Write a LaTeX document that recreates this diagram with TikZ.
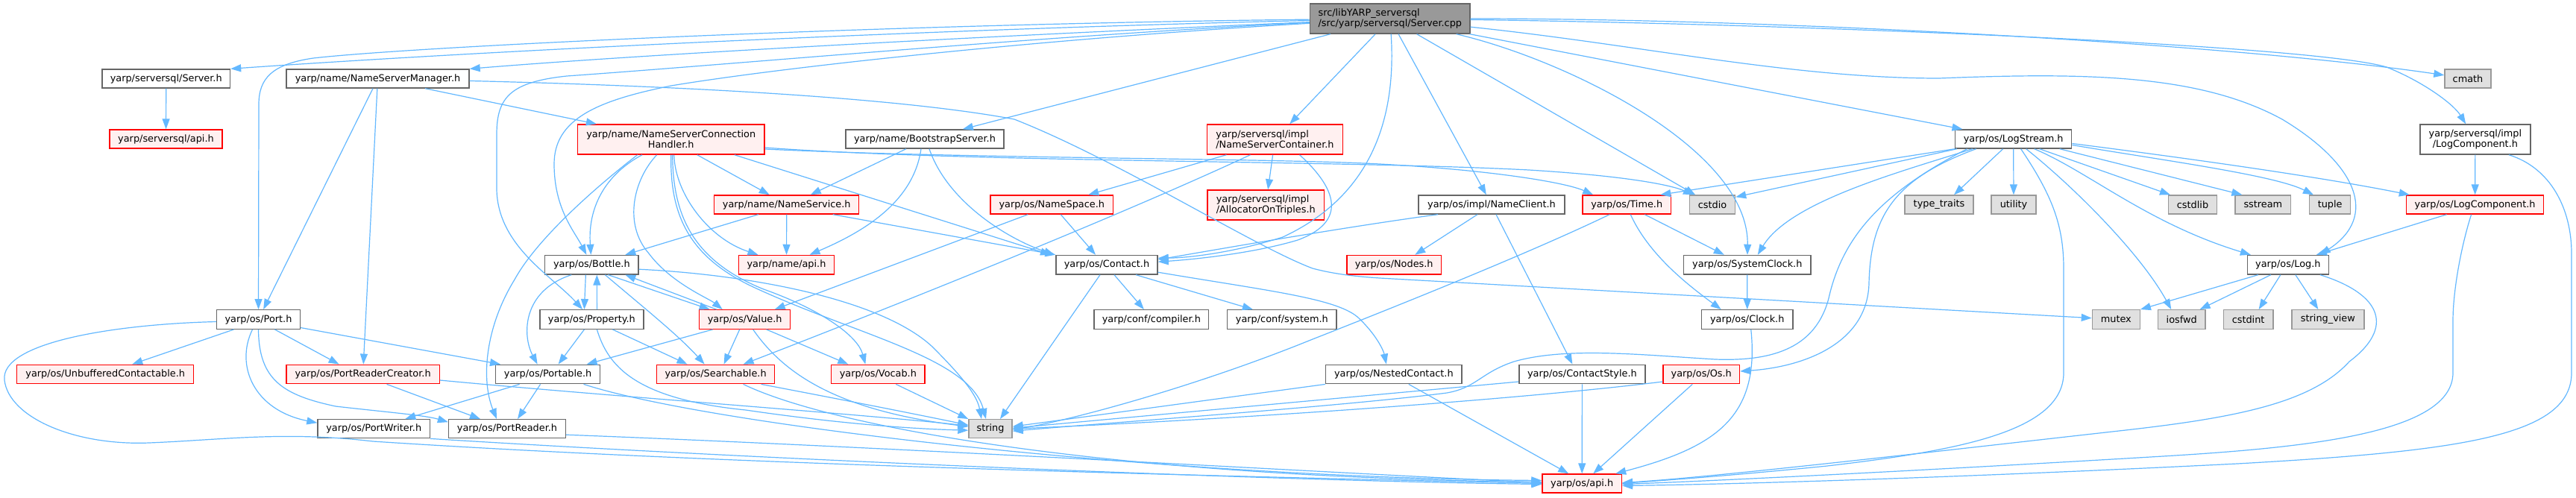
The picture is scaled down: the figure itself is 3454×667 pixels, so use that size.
\documentclass[tikz,border=0pt]{standalone}
\usepackage{fontspec}
\setmainfont{DejaVu Sans}
\usetikzlibrary{arrows.meta}
\definecolor{edgec}{HTML}{63B8FF}
\definecolor{ndb}{HTML}{666666}
\definecolor{redb}{HTML}{FF0000}
\definecolor{redf}{HTML}{FFF0F0}
\definecolor{gyb}{HTML}{999999}
\definecolor{gyf}{HTML}{E0E0E0}
\definecolor{rootf}{HTML}{999999}
\newcommand{\nfont}{\fontsize{12.85}{14}\selectfont}
\tikzset{
  nd/.style={draw=ndb, fill=white, line width=1.4pt, inner sep=0pt, font=\nfont, text=black},
  rd/.style={nd, draw=redb, fill=redf},
  gy/.style={nd, draw=gyb, fill=gyf},
  rt/.style={nd, draw=ndb, fill=rootf},
  sz/.style 2 args={minimum width=#1pt, minimum height=#2pt},
  edg/.style={draw=edgec, line width=1.2pt, -{Triangle[length=14pt,width=10pt]}},
}
\begin{document}
\begin{tikzpicture}[x=1pt,y=-1pt]
\useasboundingbox (0,0) rectangle (3454,667);
\fill[white] (0,0) rectangle (3454,667);
% ---------------- nodes
\node[rt, sz={214.4}{40}, align=left] (cpp) at (1863.8,25) {src/libYARP\_serversql\\/src/yarp/serversql/Server.cpp};
\node[nd, sz={171.5}{25}] (srvh) at (222.75,105.5) {yarp/serversql/Server.h};
\node[rd, sz={151}{25}] (sapi) at (222.5,186.5) {yarp/serversql/api.h};
\node[nd, sz={245}{25}] (nsm) at (506.5,105.5) {yarp/name/NameServerManager.h};
\node[rd, sz={250.5}{40}, align=center] (nsch) at (899.75,187) {yarp/name/NameServerConnection\\Handler.h};
\node[nd, sz={212}{25}] (boot) at (1240,186.5) {yarp/name/BootstrapServer.h};
\node[rd, sz={182}{40}, align=left] (nsc) at (1709.5,187) {yarp/serversql/impl\\/NameServerContainer.h};
\node[rd, sz={194}{25}] (nserv) at (1054.75,274.5) {yarp/name/NameService.h};
\node[rd, sz={164.5}{25}] (nspace) at (1410.25,274.5) {yarp/os/NameSpace.h};
\node[rd, sz={156.5}{40}, align=left] (alloc) at (1697.25,275) {yarp/serversql/impl\\/AllocatorOnTriples.h};
\node[nd, sz={196}{25}] (nclient) at (2000,274.5) {yarp/os/impl/NameClient.h};
\node[rd, sz={118.5}{25}] (time) at (2181.25,274.5) {yarp/os/Time.h};
\node[gy, sz={61}{25}] (cstdio) at (2296,274.5) {cstdio};
\node[gy, sz={92}{25}] (typet) at (2600,274.5) {type\_traits};
\node[gy, sz={60}{25}] (utility) at (2700,274.5) {utility};
\node[gy, sz={65}{25}] (cstdlib) at (2940,274.5) {cstdlib};
\node[gy, sz={74.7}{25}] (sstream) at (3034.35,274.5) {sstream};
\node[gy, sz={55}{25}] (tuple) at (3124.15,274.5) {tuple};
\node[rd, sz={184.2}{25}] (oslogc) at (3318.6,274.5) {yarp/os/LogComponent.h};
\node[gy, sz={62}{25}] (cmath) at (3309,105.5) {cmath};
\node[nd, sz={148.2}{40}, align=center] (slogc) at (3318.9,187) {yarp/serversql/impl\\/LogComponent.h};
\node[nd, sz={156}{25}] (logstream) at (2699.65,186.5) {yarp/os/LogStream.h};
\node[nd, sz={125.3}{25.5}] (bottle) at (793.35,355.2) {yarp/os/Bottle.h};
\node[nd, sz={111.6}{25.5}] (port) at (346.5,428.5) {yarp/os/Port.h};
\node[nd, sz={138.8}{25.5}] (property) at (793.4,428.5) {yarp/os/Property.h};
\node[rd, sz={237}{25.4}] (unbuf) at (141.2,502) {yarp/os/UnbufferedContactable.h};
\node[rd, sz={205.2}{25.4}] (prc) at (486.6,502) {yarp/os/PortReaderCreator.h};
\node[nd, sz={139.8}{25.4}] (portable) at (734.6,502) {yarp/os/Portable.h};
\node[nd, sz={150.5}{25}] (pwriter) at (501.25,575.2) {yarp/os/PortWriter.h};
\node[nd, sz={157}{25}] (preader) at (680,575.2) {yarp/os/PortReader.h};
\node[rd, sz={128.2}{25.5}] (napi) at (1054.5,355.2) {yarp/name/api.h};
\node[nd, sz={136}{25.5}] (contact) at (1484,355.2) {yarp/os/Contact.h};
\node[rd, sz={122}{25.5}] (value) at (998.7,428.5) {yarp/os/Value.h};
\node[nd, sz={153.7}{25.5}] (compiler) at (1543.85,428.5) {yarp/conf/compiler.h};
\node[nd, sz={146.3}{25.5}] (system) at (1718.85,428.5) {yarp/conf/system.h};
\node[rd, sz={158.2}{25.4}] (searchable) at (959.6,502) {yarp/os/Searchable.h};
\node[rd, sz={125.3}{25.4}] (vocab) at (1177.35,502) {yarp/os/Vocab.h};
\node[gy, sz={58}{25}] (string) at (1328,575.2) {string};
\node[rd, sz={126.5}{25.5}] (nodes) at (1869.25,355.2) {yarp/os/Nodes.h};
\node[nd, sz={170.4}{25.5}] (sysclock) at (2342.8,355.2) {yarp/os/SystemClock.h};
\node[nd, sz={122.5}{25.5}] (clock) at (2342.75,428.5) {yarp/os/Clock.h};
\node[nd, sz={182.3}{25.4}] (nested) at (1868.85,502) {yarp/os/NestedContact.h};
\node[nd, sz={169.2}{25.4}] (cstyle) at (2121.4,502) {yarp/os/ContactStyle.h};
\node[rd, sz={102.5}{25.4}] (os) at (2281.25,502) {yarp/os/Os.h};
\node[rd, sz={106.4}{25}] (osapi) at (2121.2,648.5) {yarp/os/api.h};
\node[nd, sz={108.7}{25.5}] (log) at (3067.85,355.2) {yarp/os/Log.h};
\node[gy, sz={63.8}{25.5}] (mutex) at (2837.3,428.5) {mutex};
\node[gy, sz={63.3}{25.5}] (iosfwd) at (2925.25,428.5) {iosfwd};
\node[gy, sz={66.6}{25.5}] (cstdint) at (3014.6,428.5) {cstdint};
\node[gy, sz={97.1}{25.5}] (strview) at (3121.35,428.5) {string\_view};
% ---------------- edges: root
\draw[edg] (cpp) .. controls (1300,38) and (700,65) .. (srvh.north east);
\draw[edg] (cpp) .. controls (1400,45) and (900,70) .. (nsm.north east);
\draw[edg] (cpp) .. controls (1200,32) and (560,62) .. (420,78) .. controls (365,86) and (347,105) .. (347,140) -- (port);
\draw[edg] (cpp) .. controls (1400,48) and (1000,85) .. (760,102) .. controls (685,110) and (666,130) .. (666,180) -- (666,255) .. controls (668,330) and (740,370) .. (property);
\draw[edg] (cpp) .. controls (1400,52) and (1050,90) .. (900,115) .. controls (800,135) and (743,160) .. (743,220) .. controls (743,280) and (770,310) .. (bottle);
\draw[edg] (cpp) -- (boot);
\draw[edg] (cpp) -- (nsc);
\draw[edg] (cpp) -- (nclient);
\draw[edg] (cpp) -- (cstdio);
\draw[edg] (cpp) .. controls (2100,80) and (2345,200) .. (sysclock);
\draw[edg] (cpp) .. controls (1872,150) and (1845,260) .. (1720,318) .. controls (1650,340) and (1590,346) .. ([yshift=9pt]contact.east);
\draw[edg] (cpp) -- (logstream);
\draw[edg] (cpp) .. controls (2200,60) and (2400,105) .. (2600,105) .. controls (2800,97) and (2950,100) .. (3060,160) .. controls (3160,220) and (3190,290) .. ([xshift=-12pt]log.north east);
\draw[edg] (cpp) .. controls (2400,25) and (3000,60) .. (cmath);
\draw[edg] (cpp) .. controls (2400,32) and (3100,60) .. (3200,90) .. controls (3250,110) and (3290,140) .. (slogc);
% server.h
\draw[edg] (srvh) -- (sapi);
% NameServerManager
\draw[edg] (nsm) -- (nsch);
\draw[edg] (nsm) -- (port);
\draw[edg] (nsm) -- (prc);
\draw[edg] (nsm) .. controls (900,115) and (1200,130) .. (1360,160) .. controls (1500,215) and (1680,330) .. (1760,360) .. controls (1790,368) and (1820,371) .. (1850,373) -- (mutex);
% NameServerConnectionHandler
\draw[edg] (nsch) .. controls (810,235) and (788,280) .. (bottle);
\draw[edg] ([xshift=-45pt]nsch.south) .. controls (800,250) and (720,320) .. (690,375) .. controls (650,440) and (645,510) .. ([xshift=-14pt]preader.north);
\draw[edg] ([xshift=-19pt]nsch.south) .. controls (850,240) and (835,300) .. (870,340) .. controls (900,380) and (950,400) .. ([xshift=-30pt]value.north);
\draw[edg] (nsch.south) .. controls (898,290) and (925,345) .. (1010,385) .. controls (1150,450) and (1300,480) .. ([xshift=-6pt]string.north);
\draw[edg] ([xshift=2pt]nsch.south) .. controls (902,290) and (930,350) .. (1024,388) .. controls (1100,415) and (1150,450) .. ([xshift=-17pt]vocab.north);
\draw[edg] ([xshift=4pt]nsch.south) .. controls (905,260) and (950,320) .. ([xshift=-38pt]napi.north);
\draw[edg] ([xshift=35pt]nsch.south) -- ([xshift=-23pt]nserv.north);
\draw[edg] ([xshift=85pt]nsch.south) -- ([xshift=-75pt]contact.north);
\draw[edg] ([yshift=-13pt]nsch.east) .. controls (1300,213) and (1700,212) .. (1850,220) .. controls (2000,228) and (2100,245) .. ([xshift=-45pt]time.north);
\draw[edg] ([yshift=-11pt]nsch.east) .. controls (1300,218) and (1800,215) .. (2050,228) .. controls (2180,236) and (2240,248) .. ([xshift=-25pt]cstdio.north);
% BootstrapServer
\draw[edg] ([xshift=-25pt]boot.south) -- ([xshift=32pt]nserv.north);
\draw[edg] ([xshift=-5pt]boot.south) .. controls (1225,270) and (1160,310) .. ([xshift=31pt]napi.north);
\draw[edg] ([xshift=6pt]boot.south) .. controls (1270,270) and (1350,320) .. ([xshift=-70pt]contact.north);
% NameService
\draw[edg] ([xshift=-38pt]nserv.south) -- ([xshift=45pt]bottle.north);
\draw[edg] (nserv) -- (napi);
\draw[edg] ([xshift=62pt]nserv.south) -- (contact.north west);
% NameSpace
\draw[edg] ([xshift=-32pt]nspace.south) -- ([xshift=40pt]value.north);
\draw[edg] ([xshift=12pt]nspace.south) -- ([xshift=-15pt]contact.north);
% NameServerContainer
\draw[edg] ([xshift=-65pt]nsc.south) -- ([xshift=49pt]nspace.north);
\draw[edg] ([xshift=-33pt]nsc.south) .. controls (1500,290) and (1200,410) .. ([xshift=37pt]searchable.north);
\draw[edg] (nsc) -- (alloc);
\draw[edg] ([xshift=33pt]nsc.south) .. controls (1800,260) and (1800,300) .. (1740,322) .. controls (1680,340) and (1600,348) .. ([yshift=4pt]contact.east);
% NameClient
\draw[edg] ([xshift=-72pt]nclient.south) .. controls (1800,305) and (1630,335) .. ([yshift=7pt]contact.east);
\draw[edg] ([xshift=-19pt]nclient.south) -- ([xshift=28pt]nodes.north);
\draw[edg] ([xshift=6pt]nclient.south) -- ([xshift=-13pt]cstyle.north);
% Time
\draw[edg] ([xshift=-23pt]time.south) .. controls (2060,335) and (1900,400) .. (1760,455) .. controls (1600,520) and (1430,565) .. ([yshift=-1pt]string.east);
\draw[edg] ([xshift=24pt]time.south) -- ([xshift=-31pt]sysclock.north);
\draw[edg] ([xshift=5pt]time.south) .. controls (2210,340) and (2260,380) .. ([xshift=-35pt]clock.north);
\draw[edg] (sysclock) -- (clock);
\draw[edg] ([xshift=5pt]clock.south) .. controls (2360,560) and (2300,600) .. ([xshift=45pt]osapi.north);
% LogStream
\draw[edg] (logstream.south west) -- ([xshift=45pt]time.north);
\draw[edg] ([xshift=3pt]logstream.south west) -- ([yshift=-3pt]cstdio.north east);
\draw[edg] ([xshift=-55pt]logstream.south) .. controls (2550,230) and (2400,270) .. ([xshift=14pt]sysclock.north);
\draw[edg] ([xshift=-62pt]logstream.south) .. controls (2520,260) and (2470,320) .. (2452,400) .. controls (2435,465) and (2380,485) .. (2300,482) .. controls (2200,476) and (2100,465) .. (2030,485) .. controls (1985,500) and (1980,520) .. (1940,527) .. controls (1800,545) and (1500,566) .. ([yshift=-3pt]string.east);
\draw[edg] ([xshift=-50pt]logstream.south) .. controls (2540,240) and (2508,290) .. (2506,380) .. controls (2504,460) and (2420,492) .. ([yshift=4pt]os.east);
\draw[edg] ([xshift=-14pt]logstream.south) -- ([xshift=20pt]typet.north);
\draw[edg] (logstream) -- (utility);
\draw[edg] ([xshift=10pt]logstream.south) .. controls (2750,260) and (2767,300) .. (2767,360) -- (2767,500) .. controls (2767,580) and (2620,605) .. (2450,625) .. controls (2300,640) and (2220,645) .. (osapi.east);
\draw[edg] ([xshift=17pt]logstream.south) .. controls (2780,250) and (2870,340) .. ([xshift=-14pt]iosfwd.north);
\draw[edg] ([xshift=28pt]logstream.south) .. controls (2800,230) and (2880,300) .. ([xshift=-50pt]log.north);
\draw[edg] ([xshift=35pt]logstream.south) -- ([xshift=-30pt]cstdlib.north);
\draw[edg] ([xshift=62pt]logstream.south) -- ([xshift=-28pt]sstream.north);
\draw[edg] ([yshift=-8pt]logstream.east) .. controls (2900,215) and (3050,235) .. ([xshift=6pt]tuple.north west);
\draw[edg] ([yshift=-6pt]logstream.east) .. controls (2900,208) and (3100,235) .. ([xshift=5pt]oslogc.north west);
% Log
\draw[edg] ([xshift=-40pt]log.south) -- (mutex.north east);
\draw[edg] ([xshift=-23pt]log.south) -- ([xshift=-8pt]iosfwd.north east);
\draw[edg] ([xshift=-10pt]log.south) -- ([xshift=14pt]cstdint.north);
\draw[edg] ([xshift=10pt]log.south) -- ([xshift=-13pt]strview.north);
\draw[edg] ([xshift=43pt]log.south) .. controls (3195,395) and (3210,440) .. (3150,485) .. controls (3100,540) and (3000,560) .. (2850,577) .. controls (2600,605) and (2300,640) .. ([yshift=1pt]osapi.east);
% os/LogComponent
\draw[edg] ([xshift=-38pt]oslogc.south) -- ([xshift=38pt]log.north);
\draw[edg] ([xshift=-5pt]oslogc.south) .. controls (3300,330) and (3289,390) .. (3289,430) -- (3289,500) .. controls (3289,580) and (3100,600) .. (2900,612) .. controls (2600,630) and (2300,645) .. ([yshift=-1pt]osapi.east);
% serversql/impl/LogComponent
\draw[edg] (slogc) -- (oslogc);
\draw[edg] ([xshift=45pt]slogc.south) .. controls (3420,225) and (3448,280) .. (3448,340) -- (3448,500) .. controls (3448,585) and (3300,605) .. (3000,622) .. controls (2600,642) and (2300,650) .. ([yshift=-3pt]osapi.east);
% Bottle
\draw[edg] ([xshift=-27pt]bottle.south) .. controls (700,390) and (700,450) .. ([xshift=-14pt]portable.north);
\draw[edg] ([xshift=-8pt]bottle.south) -- ([xshift=-10pt]property.north);
\draw[edg] ([xshift=7pt]property.north) -- ([xshift=7pt]bottle.south);
\draw[edg] ([xshift=18pt]bottle.south) .. controls (860,410) and (910,450) .. ([xshift=-15pt]searchable.north);
\draw[edg] ([xshift=22pt]bottle.south) -- ([xshift=-47pt]value.north);
\draw[edg] ([xshift=-38pt]value.north) -- ([xshift=45pt]bottle.south);
\draw[edg] ([yshift=-6pt]bottle.east) .. controls (1000,368) and (1180,400) .. (1250,465) .. controls (1290,505) and (1310,530) .. ([xshift=-12pt]string.north);
% Value
\draw[edg] ([xshift=-7pt]value.south) -- ([xshift=11pt]searchable.north);
\draw[edg] ([xshift=29pt]value.south) -- ([xshift=-40pt]vocab.north);
\draw[edg] ([xshift=-43pt]value.south) -- ([xshift=52pt]portable.north);
\draw[edg] ([xshift=11pt]value.south) .. controls (1050,500) and (1120,550) .. ([yshift=3pt]string.west);
% Property
\draw[edg] ([xshift=-10pt]property.south) -- ([xshift=14pt]portable.north);
\draw[edg] ([xshift=28pt]property.south) -- ([xshift=-38pt]searchable.north);
\draw[edg] ([xshift=7pt]property.south) .. controls (815,490) and (850,535) .. (1000,550) .. controls (1150,572) and (1250,576) .. ([yshift=-2pt]string.west);
% Port
\draw[edg] ([xshift=-33pt]port.south) -- ([xshift=36pt]unbuf.north);
\draw[edg] ([xshift=-8pt]port.south) .. controls (315,490) and (340,550) .. ([yshift=8pt]pwriter.west);
\draw[edg] (port.south) .. controls (347,510) and (380,530) .. (450,545) .. controls (520,553) and (570,557) .. ([yshift=9pt]preader.west);
\draw[edg] ([xshift=22pt]port.south) -- ([xshift=-32pt]prc.north);
\draw[edg] ([yshift=-11pt]port.east) -- ([xshift=7pt]portable.north west);
\draw[edg] ([yshift=-3pt]port.west) .. controls (150,435) and (0,460) .. (6,510) .. controls (12,560) and (100,598) .. (200,594) .. controls (300,590) and (380,578) .. (500,592) .. controls (1000,625) and (1700,640) .. (osapi.west);
% PortReaderCreator
\draw[edg] ([xshift=32pt]prc.south) -- ([xshift=-36pt]preader.north);
\draw[edg] ([yshift=-8pt]prc.east) .. controls (800,530) and (1150,555) .. ([yshift=4pt]string.west);
% Portable
\draw[edg] ([xshift=-38pt]portable.south) -- ([xshift=42pt]pwriter.north);
\draw[edg] ([xshift=-10pt]portable.south) -- ([xshift=14pt]preader.north);
\draw[edg] ([xshift=48pt]portable.south) .. controls (950,570) and (1550,640) .. ([yshift=4pt]osapi.west);
% Searchable, Vocab
\draw[edg] ([xshift=61pt]searchable.south) .. controls (1150,540) and (1250,560) .. ([yshift=5pt]string.west);
\draw[edg] ([xshift=37pt]searchable.south) .. controls (1120,575) and (1500,640) .. ([yshift=2pt]osapi.west);
\draw[edg] ([xshift=24pt]vocab.south) -- (string.north west);
% Contact
\draw[edg] ([xshift=10pt]contact.south) -- ([xshift=-10pt]compiler.north);
\draw[edg] ([xshift=39pt]contact.south) -- ([xshift=-39pt]system.north);
\draw[edg] ([xshift=-9pt]contact.south) -- ([xshift=13pt]string.north);
\draw[edg] ([yshift=-10pt]contact.east) .. controls (1700,390) and (1790,400) .. (1820,425) .. controls (1845,448) and (1855,470) .. ([xshift=-10pt]nested.north);
% NestedContact, ContactStyle, Os
\draw[edg] (nested.south west) -- ([yshift=3pt]string.east);
\draw[edg] ([xshift=20pt]nested.south) -- ([xshift=-18pt]osapi.north);
\draw[edg] ([yshift=-10pt]cstyle.west) -- ([yshift=1pt]string.east);
\draw[edg] (cstyle) -- (osapi);
\draw[edg] ([yshift=-10pt]os.west) .. controls (2000,540) and (1600,565) .. (string.east);
\draw[edg] ([xshift=-12pt]os.south) -- ([xshift=15pt]osapi.north);
% PortReader, PortWriter
\draw[edg] ([yshift=-8pt]preader.east) .. controls (1200,600) and (1800,635) .. ([yshift=1pt]osapi.west);
\draw[edg] (pwriter.south east) .. controls (1000,615) and (1700,645) .. ([yshift=-1pt]osapi.west);
\end{tikzpicture}
\end{document}
